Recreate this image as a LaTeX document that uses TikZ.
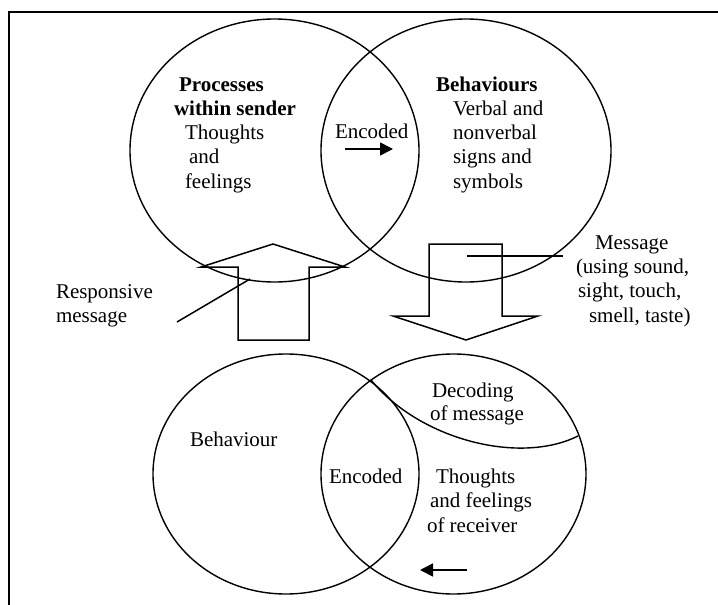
\documentclass[tikz,border=0pt]{standalone}
\usepackage{fontspec}
\setmainfont{Liberation Serif}
\usetikzlibrary{shapes.geometric,arrows.meta}
\begin{document}
\begin{tikzpicture}[x=1pt,y=-1pt,
  ell/.style={draw, ellipse, line width=1.4pt, inner sep=0pt, outer sep=0pt},
  lbl/.style={anchor=base west, inner sep=0pt, outer sep=0pt, font=\fontsize{21}{24}\selectfont},
  blk/.style={draw, line width=1.5pt, line join=miter},
  ptr/.style={line width=1.5pt},
  arr/.style={line width=1.6pt, -{Triangle[length=13pt,width=13pt]}},
  frm/.style={line width=2pt, line join=miter}]
\useasboundingbox (0,0) rectangle (718,605);
\clip (0,0) rectangle (718,605);
% frame
\draw[frm] (9,610) -- (9,12.3) -- (725,12.3);
% upper ellipses
\node[ell, minimum width=289pt, minimum height=263pt] (sender) at (274.5,150.5) {};
\node[ell, minimum width=290pt, minimum height=263pt] (behav) at (466,150.5) {};
% lower ellipses
\node[ell, minimum width=266pt, minimum height=240pt] (rbeh) at (286,474) {};
\node[ell, minimum width=265pt, minimum height=240pt] (recv) at (453.5,474) {};
% decoding curve
\coordinate (dcs) at (371,380);
\coordinate (dce) at (578,436);
\draw[line width=1.4pt] (dcs) .. controls (420,440) and (520,465) .. (dce);
% upper labels
\node[lbl] (t1) at (179,91) {\textbf{Processes}};
\node[lbl] (t2) at (174,115) {\textbf{within sender}};
\node[lbl] (t3) at (185,139) {Thoughts};
\node[lbl] (t4) at (189,163) {and};
\node[lbl] (t5) at (185,188) {feelings};
\node[lbl] (enc1) at (335,138) {Encoded};
\node[lbl] (b1) at (436,91) {\textbf{Behaviours}};
\node[lbl] (b2) at (453,115) {Verbal and};
\node[lbl] (b3) at (453,139) {nonverbal};
\node[lbl] (b4) at (453,163) {signs and};
\node[lbl] (b5) at (453,188) {symbols};
% encoded arrow (upper)
\coordinate (ea1) at (345,149);
\coordinate (ea2) at (393,149);
\draw[arr] (ea1) -- (ea2);
% message labels
\node[lbl] (m1) at (595,249) {Message};
\node[lbl] (m2) at (576,273) {(using sound,};
\node[lbl] (m3) at (578,297) {sight, touch,};
\node[lbl] (m4) at (589,322) {smell, taste)};
\node[lbl] (r1) at (56,298) {Responsive};
\node[lbl] (r2) at (56,322) {message};
% up block arrow (responsive message)
\draw[blk] (273,244) -- (345,267) -- (309,267) -- (309,340) -- (238,340) -- (238,267) -- (201,267) -- cycle;
% down block arrow (message)
\draw[blk] (429,244) -- (502,244) -- (502,316) -- (538,316) -- (466,340) -- (393,316) -- (429,316) -- cycle;
% pointer lines
\coordinate (rp1) at (177,322);
\coordinate (rp2) at (250,279);
\draw[ptr] (rp1) -- (rp2);
\coordinate (mp1) at (467,256);
\coordinate (mp2) at (563,256);
\draw[ptr] (mp1) -- (mp2);
% lower labels
\node[lbl] (d1) at (432,397) {Decoding};
\node[lbl] (d2) at (430,420) {of message};
\node[lbl] (lb) at (190,446) {Behaviour};
\node[lbl] (enc2) at (329,483) {Encoded};
\node[lbl] (h1) at (436,483) {Thoughts};
\node[lbl] (h2) at (430,507) {and feelings};
\node[lbl] (h3) at (427,532) {of receiver};
% lower arrow
\coordinate (la1) at (467,570);
\coordinate (la2) at (420,570);
\draw[arr] (la1) -- (la2);
\end{tikzpicture}
\end{document}
